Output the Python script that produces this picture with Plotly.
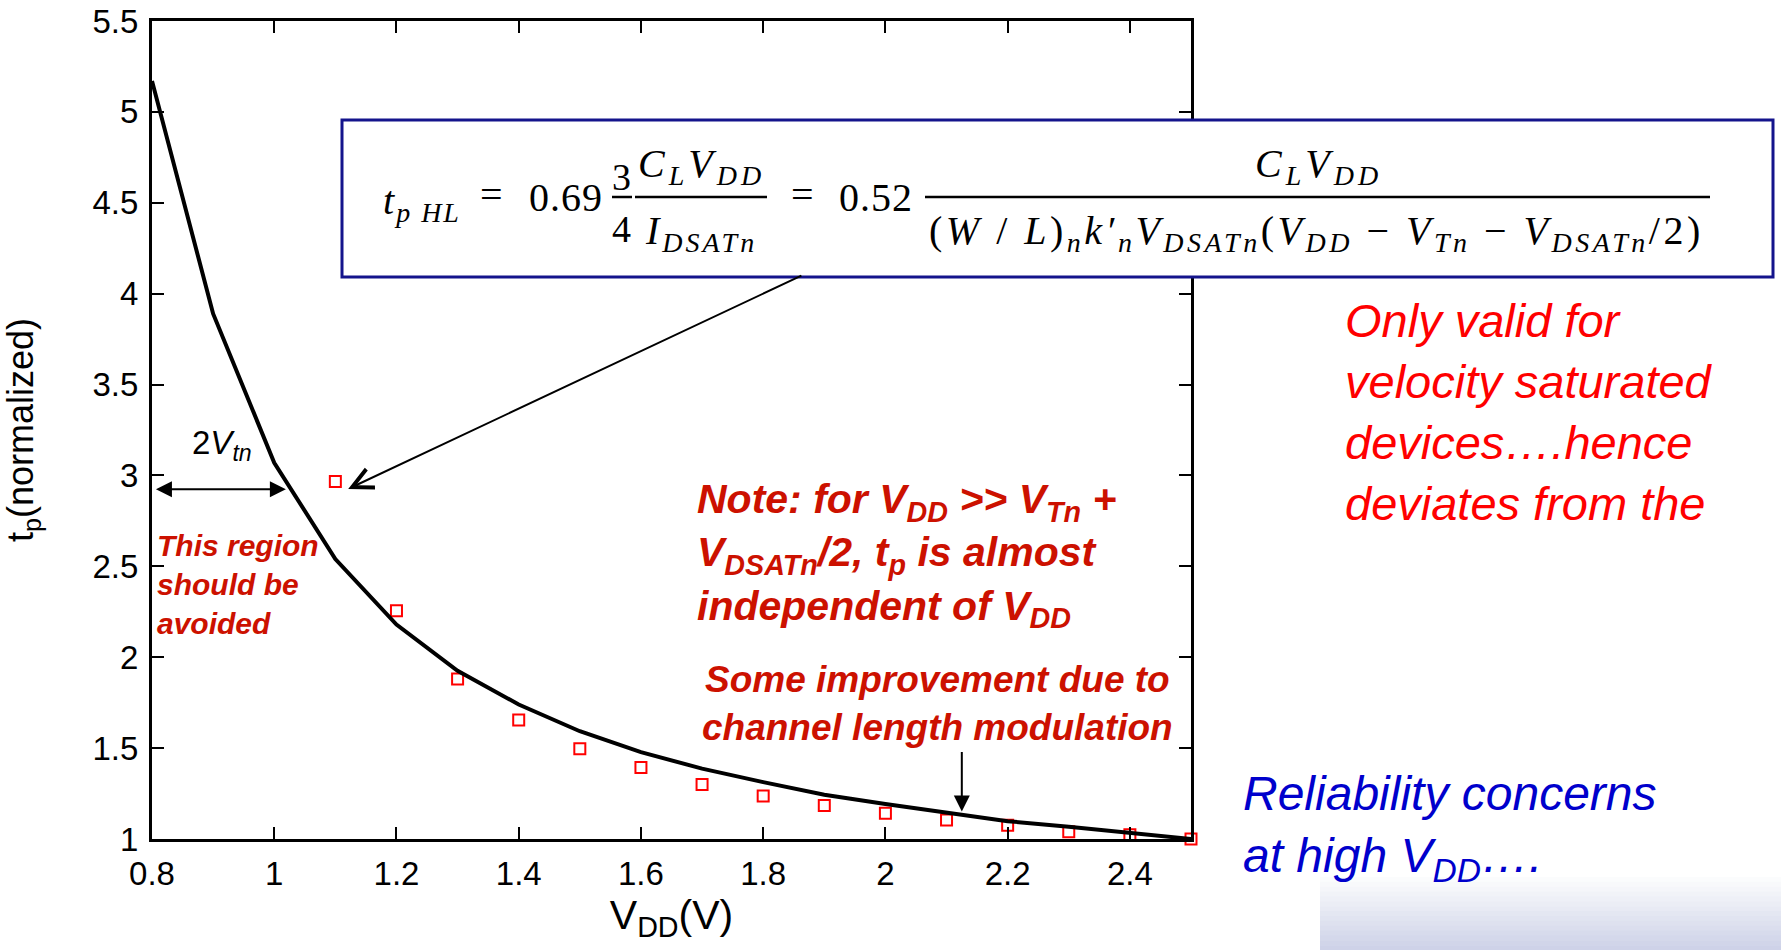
import plotly.graph_objects as go

# ---------------- data ----------------
vdd_model = [0.8, 0.9, 1.0, 1.1, 1.2, 1.3, 1.4, 1.5, 1.6, 1.7, 1.8, 1.9, 2.0, 2.1, 2.2, 2.3, 2.4, 2.5]
tp_model = [5.17, 3.89, 3.07, 2.54, 2.18, 1.925, 1.74, 1.593, 1.478, 1.387, 1.313, 1.243, 1.193, 1.147, 1.098, 1.068, 1.032, 1.0]

vdd_sim = [1.1, 1.2, 1.3, 1.4, 1.5, 1.6, 1.7, 1.8, 1.9, 2.0, 2.1, 2.2, 2.3, 2.4, 2.5]
tp_sim = [2.966, 2.255, 1.88, 1.655, 1.496, 1.393, 1.30, 1.236, 1.184, 1.142, 1.105, 1.076, 1.04, 1.024, 1.0]

x_tick_vals = [0.8, 1.0, 1.2, 1.4, 1.6, 1.8, 2.0, 2.2, 2.4]
x_tick_text = ["0.8", "1", "1.2", "1.4", "1.6", "1.8", "2", "2.2", "2.4"]
y_tick_vals = [1, 1.5, 2, 2.5, 3, 3.5, 4, 4.5, 5, 5.5]
y_tick_text = ["1", "1.5", "2", "2.5", "3", "3.5", "4", "4.5", "5", "5.5"]

# ---------------- layout geometry (pixels) ----------------
W_PX, H_PX = 1781, 950
L, R, T, B = 152, 1191, 21, 839
PW, PH = R - L, B - T

SANS = "Liberation Sans, Arial, sans-serif"
SERIF = "Liberation Serif, Times New Roman, serif"
DARK_RED = "#CC1100"


def px(x):
    return (x - L) / PW


def py(y):
    return (B - y) / PH


fig = go.Figure()
fig.add_trace(go.Scatter(
    x=vdd_sim, y=tp_sim, mode="markers",
    marker=dict(symbol="square-open", size=11, color="#FF0000", line=dict(width=2, color="#FF0000")),
    cliponaxis=False, showlegend=False))
fig.add_trace(go.Scatter(
    x=vdd_model, y=tp_model, mode="lines",
    line=dict(color="black", width=4), cliponaxis=False, showlegend=False))

annotations = []
shapes = []


def ann(text, x, y, size, color="black", family=SANS, xanchor="center", yanchor="middle", align="left"):
    annotations.append(dict(
        text=text, x=px(x), y=py(y), xref="paper", yref="paper", showarrow=False,
        xanchor=xanchor, yanchor=yanchor, align=align,
        font=dict(size=size, color=color, family=family)))


def spaced(text, sp):
    return f'<span style="letter-spacing:{sp}px">{text}</span>'


def hline(x0, x1, y, width=2.5, color="black"):
    shapes.append(dict(type="line", xref="paper", yref="paper",
                       x0=px(x0), x1=px(x1), y0=py(y), y1=py(y),
                       line=dict(color=color, width=width), layer="above"))


# background gradient (slide decoration, bottom right)
n_strips = 16
for i in range(n_strips):
    f = i / (n_strips - 1)
    r = int(255 - f * (255 - 206))
    g = int(255 - f * (255 - 210))
    b = int(255 - f * (255 - 232))
    y0 = 872 + i * (78 / n_strips)
    shapes.append(dict(type="rect", xref="paper", yref="paper",
                       x0=px(1320), x1=px(1781), y0=py(y0 + 78 / n_strips + 0.5), y1=py(y0),
                       line=dict(width=0), fillcolor=f"rgb({r},{g},{b})", layer="below"))

# formula box
shapes.append(dict(type="rect", xref="paper", yref="paper",
                   x0=px(342), x1=px(1773), y0=py(277), y1=py(120),
                   line=dict(color="#14148C", width=3), fillcolor="white", layer="above"))

FS = 40
ann(spaced("<i>t</i><sub><i>p HL</i></sub>", 2), 381, 203, FS, family=SERIF, xanchor="left")
ann("=", 491, 194, FS, family=SERIF)
ann(spaced("0.69", 1), 566, 197, FS, family=SERIF)
ann("3", 621, 177, 38, family=SERIF)
ann("4", 621, 229, 38, family=SERIF)
hline(612, 632, 197)
ann(spaced("<i>C</i><sub><i>L</i></sub><i>V</i><sub><i>DD</i></sub>", 4), 701, 166, FS, family=SERIF)
ann(spaced("<i>I</i><sub><i>DSATn</i></sub>", 3), 701, 233, FS, family=SERIF)
hline(635, 767, 197)
ann("=", 802, 194, FS, family=SERIF)
ann(spaced("0.52", 1), 876, 197, FS, family=SERIF)
hline(925, 1710, 197)
ann(spaced("<i>C</i><sub><i>L</i></sub><i>V</i><sub><i>DD</i></sub>", 4), 1318, 166, FS, family=SERIF)
ann(spaced('(<i>W</i> / <i>L</i>)<sub><i>n</i></sub><i>k′</i><sub><i>n</i></sub>'
           '<i>V</i><sub><i>DSATn</i></sub>(<i>V</i><sub><i>DD</i></sub> − <i>V</i><sub><i>Tn</i></sub> − '
           '<i>V</i><sub><i>DSATn</i></sub>/2)', 3.5), 1316, 233, FS, family=SERIF)

# annotation texts
ann("2<i>V</i><sub><i>tn</i></sub>", 222, 445, 33)
ann("<b><i>This region<br>should be<br>avoided</i></b>", 155, 584, 30, color=DARK_RED, xanchor="left")
ann("<b><i>Note: for V<sub>DD</sub> &gt;&gt; V<sub>Tn</sub> +<br>V<sub>DSATn</sub>/2, t<sub>p</sub> is almost<br>"
    "independent of V<sub>DD</sub></i></b>", 695, 555, 41, color=DARK_RED, xanchor="left")
ann("<b><i>Some improvement due to<br>channel length modulation</i></b>", 937, 703, 37,
    color=DARK_RED, align="center")
ann("<i>Only valid for<br>velocity saturated<br>devices….hence<br>deviates from the</i>", 1343, 412, 47,
    color="#FF0000", xanchor="left")
ann("<i>Reliability concerns<br>at high V<sub>DD</sub>….</i>", 1241, 828, 48, color="#0000CC", xanchor="left")

# arrows (data coordinates)
annotations.append(dict(x=1.121, y=2.926, ax=1.865, ay=4.103, xref="x", yref="y", axref="x", ayref="y",
                        text="", showarrow=True, arrowhead=5, arrowsize=2, arrowwidth=2, arrowcolor="black"))
annotations.append(dict(x=1.019, y=2.924, ax=0.804, ay=2.924, xref="x", yref="y", axref="x", ayref="y",
                        text="", showarrow=True, arrowside="end+start", arrowhead=2, startarrowhead=2,
                        arrowsize=1.6, startarrowsize=1.6, arrowwidth=2, arrowcolor="black"))
annotations.append(dict(x=2.125, y=1.151, ax=2.125, ay=1.487, xref="x", yref="y", axref="x", ayref="y",
                        text="", showarrow=True, arrowhead=2, arrowsize=1.6, arrowwidth=2, arrowcolor="black"))

axis_common = dict(showline=True, linecolor="black", linewidth=3, mirror="ticks", ticks="inside",
                   ticklen=12, tickwidth=2, tickcolor="black", showgrid=False, zeroline=False,
                   tickfont=dict(family=SANS, size=33, color="black"))

fig.update_layout(
    width=W_PX, height=H_PX,
    margin=dict(l=L, r=W_PX - R, t=T, b=H_PX - B, autoexpand=False),
    paper_bgcolor="white", plot_bgcolor="white",
    xaxis=dict(range=[0.8, 2.5], tickvals=x_tick_vals, ticktext=x_tick_text, ticklabelstandoff=3,
               title=dict(text="V<sub>DD</sub>(V)", font=dict(family=SANS, size=41, color="black"), standoff=0),
               **axis_common),
    yaxis=dict(range=[1, 5.5], tickvals=y_tick_vals, ticktext=y_tick_text, ticklabelstandoff=4,
               title=dict(text="t<sub>p</sub>(normalized)", font=dict(family=SANS, size=36, color="black"),
                          standoff=52),
               **axis_common),
    annotations=annotations, shapes=shapes, showlegend=False,
)

fig.write_html("out.html", config={"displayModeBar": False},
               post_script="document.body.style.margin='0';document.body.style.overflow='hidden';")
